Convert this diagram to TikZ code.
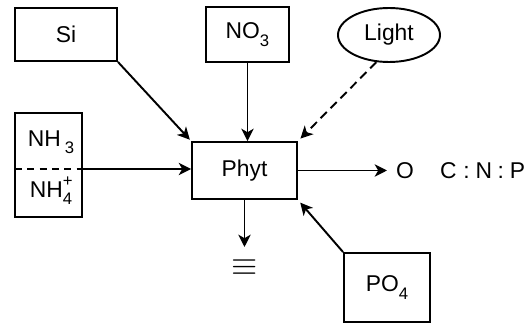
\documentclass[tikz,border=0pt]{standalone}
\usepackage{fontspec}
\setmainfont{Liberation Sans}
\usepackage{tikz}
\usetikzlibrary{arrows.meta}
\usetikzlibrary{shapes.geometric}

\newcommand{\chemsub}[1]{\raisebox{-0.6ex}{\fontsize{9.5}{10}\selectfont #1}}
\newcommand{\chemsup}[1]{\raisebox{0.9ex}{\fontsize{9.5}{10}\selectfont #1}}

\begin{document}
\begin{tikzpicture}[line width=1.1pt,font=\fontsize{13}{15}\selectfont,
    box/.style={draw,rectangle,inner sep=0pt},
    flow/.style={-{Stealth[length=7pt,width=7pt,inset=2pt]}}]
    \useasboundingbox (0,0) rectangle (10.58,6.52);

    % sources
    \node[box,minimum width=2.04cm,minimum height=1.06cm] (si) at (1.32,5.83) {Si};
    \node[box,minimum width=1.66cm,minimum height=1.10cm] (no) at (4.95,5.83) {NO\chemsub{3}};
    \node[draw,ellipse,minimum width=2.04cm,minimum height=1.08cm,inner sep=0pt] (light) at (7.78,5.82) {Light};
    \node[box,minimum width=1.34cm,minimum height=2.08cm] (nh) at (0.97,3.22) {};
    \node[box,minimum width=1.72cm,minimum height=1.38cm] (po) at (7.74,0.77) {PO\chemsub{4}};

    % ammonia / ammonium
    \coordinate (nhw) at (0.30,3.14);
    \coordinate (nhe) at (1.64,3.14);
    \draw[dashed,dash pattern=on 4pt off 3pt] (nhw) -- (nhe);
    \node (nha) at (1.02,3.68) {NH\,\chemsub{3}};
    \node (nhb) at (1.02,2.70) {NH\rlap{\chemsup{+}}\chemsub{4}};

    % phytoplankton
    \node[box,minimum width=2.10cm,minimum height=1.14cm] (phyt) at (4.89,3.11) {Phyt};
    \coordinate (out) at (7.74,3.11);
    \coordinate (down) at (4.89,1.58);
    \node (o) at (8.10,3.11) {O};
    \node[inner sep=0pt,anchor=east] (cnp) at (10.52,3.11) {C\hspace{0.3em}:\hspace{0.25em}N\hspace{0.25em}:\hspace{0.25em}P};
    \node[scale=1.6] (sink) at (4.89,1.16) {$\equiv$};

    \draw[flow,shorten >=1pt] (si.south east) -- (phyt.north west);
    \draw[flow] (no.south) -- (no.south |- phyt.north);
    \draw[flow,dash pattern=on 5pt off 3pt,shorten >=2pt] (light.245) -- (phyt.north east);
    \draw[flow] (nhe) -- (nhe -| phyt.west);
    \draw[flow] (phyt.east) -- (out);
    \draw[flow] (phyt.south) -- (down);
    \draw[flow,shorten >=2pt] (po.north west) -- (phyt.south east);
\end{tikzpicture}
\end{document}
